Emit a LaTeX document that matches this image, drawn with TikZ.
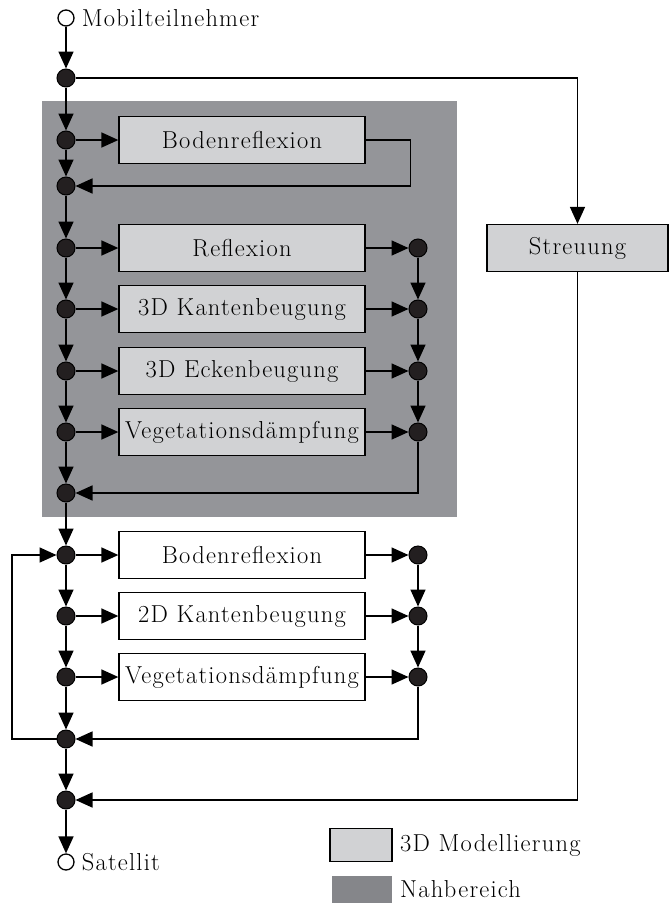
\documentclass[tikz,border=0pt]{standalone}
\usepackage{fontspec}
\setmainfont{Latin Modern Roman}[LetterSpace=5]
\usetikzlibrary{arrows.meta}
\definecolor{nahgray}{HTML}{949599}
\definecolor{leggray}{HTML}{85868A}
\definecolor{boxgray}{HTML}{D1D2D4}
\definecolor{jdark}{HTML}{231F20}
\begin{document}
\begin{tikzpicture}[x=1pt,y=-1pt,
  font=\fontsize{24.5}{29}\selectfont,
  conn/.style={line width=1.6pt},
  arr/.style={conn,-{Triangle[length=17pt,width=15pt]}},
  junc/.style={circle,draw=black,line width=1pt,fill=jdark,minimum size=18pt,inner sep=0pt},
  term/.style={circle,draw=black,line width=1.3pt,fill=white,minimum size=16pt,inner sep=0pt},
  mbox/.style={rectangle,draw=black,line width=1.3pt,minimum width=246pt,minimum height=47pt,inner sep=0pt},
  gbox/.style={mbox,fill=boxgray},
  wbox/.style={mbox,fill=white},
  lbl/.style={anchor=west,inner sep=2pt}]
\useasboundingbox (0,0) rectangle (669,903);
% Nahbereich background
\fill[nahgray] (42,101) rectangle (457,517);
% terminals
\node[term] (mob) at (66,18) {};
\node[lbl] (mobl) at ([xshift=5pt]mob.east) {Mobilteilnehmer};
\node[term] (sat) at (66,862) {};
\node[lbl] (satl) at ([xshift=5pt]sat.east) {Satellit};
% left column junctions
\node[junc] (j1) at (66,78) {};
\node[junc] (j2) at (66,140) {};
\node[junc] (j3) at (66,186) {};
\node[junc] (j4) at (66,248) {};
\node[junc] (j5) at (66,309) {};
\node[junc] (j6) at (66,371) {};
\node[junc] (j7) at (66,432) {};
\node[junc] (j8) at (66,493) {};
\node[junc] (j9) at (66,555) {};
\node[junc] (j10) at (66,616) {};
\node[junc] (j11) at (66,677) {};
\node[junc] (j12) at (66,739) {};
\node[junc] (j13) at (66,800) {};
% right column junctions
\node[junc] (r4) at (418,248) {};
\node[junc] (r5) at (418,309) {};
\node[junc] (r6) at (418,371) {};
\node[junc] (r7) at (418,432) {};
\node[junc] (r9) at (418,555) {};
\node[junc] (r10) at (418,616) {};
\node[junc] (r11) at (418,677) {};
% boxes
\node[gbox] (b2) at (242,140) {Bodenreflexion};
\node[gbox] (b4) at (242,248) {Reflexion};
\node[gbox] (b5) at (242,309) {3D Kantenbeugung};
\node[gbox] (b6) at (242,371) {3D Eckenbeugung};
\node[gbox] (b7) at (242,432) {Vegetationsdämpfung};
\node[wbox] (b9) at (242,555) {Bodenreflexion};
\node[wbox] (b10) at (242,616) {2D Kantenbeugung};
\node[wbox] (b11) at (242,677) {Vegetationsdämpfung};
\node[gbox,minimum width=181pt] (streu) at (577.5,248) {Streuung};
% legend
\node[rectangle,draw=black,line width=1.3pt,fill=boxgray,minimum width=62pt,minimum height=33pt] (leg1) at (361,845) {};
\node[lbl] (leg1t) at (398,845) {3D Modellierung};
\fill[leggray] (332,876) rectangle (392,905);
\node[lbl] (leg2t) at (398,889) {Nahbereich};
% main column connectors
\draw[arr] (mob) -- (j1);
\draw[arr] (j1) -- (j2);
\draw[arr] (j2) -- (j3);
\draw[arr] (j3) -- (j4);
\draw[arr] (j4) -- (j5);
\draw[arr] (j5) -- (j6);
\draw[arr] (j6) -- (j7);
\draw[arr] (j7) -- (j8);
\draw[arr] (j8) -- (j9);
\draw[arr] (j9) -- (j10);
\draw[arr] (j10) -- (j11);
\draw[arr] (j11) -- (j12);
\draw[arr] (j12) -- (j13);
\draw[arr] (j13) -- (sat);
% into boxes
\draw[arr] (j2) -- (b2);
\draw[arr] (j4) -- (b4);
\draw[arr] (j5) -- (b5);
\draw[arr] (j6) -- (b6);
\draw[arr] (j7) -- (b7);
\draw[arr] (j9) -- (b9);
\draw[arr] (j10) -- (b10);
\draw[arr] (j11) -- (b11);
% out of boxes
\draw[arr] (b4) -- (r4);
\draw[arr] (b5) -- (r5);
\draw[arr] (b6) -- (r6);
\draw[arr] (b7) -- (r7);
\draw[arr] (b9) -- (r9);
\draw[arr] (b10) -- (r10);
\draw[arr] (b11) -- (r11);
% right column
\draw[arr] (r4) -- (r5);
\draw[arr] (r5) -- (r6);
\draw[arr] (r6) -- (r7);
\draw[arr] (r9) -- (r10);
\draw[arr] (r10) -- (r11);
\draw[arr] (r7) |- (j8);
\draw[arr] (r11) |- (j12);
% ground reflection loop
\draw[arr] (b2.east) -- ++(45,0) |- (j3);
% feedback loop
\draw[arr] (j12) -- ++(-54,0) |- (j9);
% scattering path
\draw[arr] (j1) -| (streu.north);
\draw[arr] (streu.south) |- (j13);
\end{tikzpicture}
\end{document}
